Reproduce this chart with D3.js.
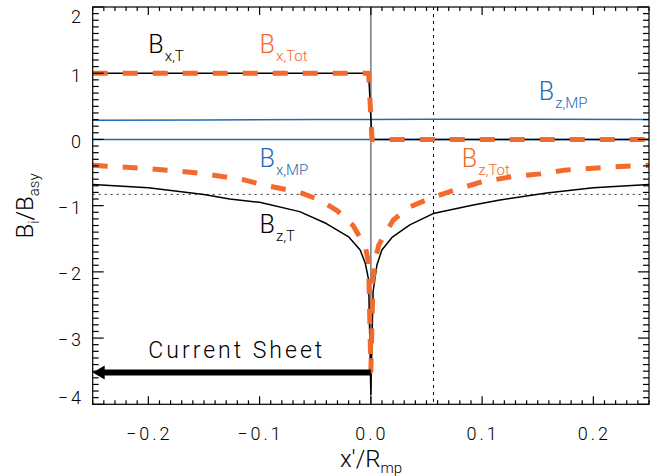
<!DOCTYPE html>
<html><head><meta charset="utf-8">
<script src="https://cdn.jsdelivr.net/npm/d3@7"></script>
<style>
body{margin:0;background:#fff;}
svg{display:block;font-family:Roboto,"Liberation Sans",sans-serif;font-weight:300;}
</style></head>
<body><svg id="c" width="655" height="476"></svg>
<script>
// ---- data ----
const xTickValues = [-0.2, -0.1, 0.0, 0.1, 0.2];
const xTickLabels = ["\u22120.2", "\u22120.1", "0.0", "0.1", "0.2"];
const yTickValues = [-4, -3, -2, -1, 0, 1, 2];
const yTickLabels = ["\u22124", "\u22123", "\u22122", "\u22121", "0", "1", "2"];

const bxT_x = [-0.25, -0.002, 0.001, 0.25];
const bxT_y = [1, 1, 0, 0];
const bxTot_x = [-0.25, -0.002, 0.001, 0.25];
const bxTot_y = [1, 1, 0, 0];
const bxMP_x = [-0.25, 0.25];
const bxMP_y = [0, 0];
const bzMP_x = [-0.25, -0.15, -0.05, 0.0, 0.05, 0.15, 0.25];
const bzMP_y = [0.29, 0.295, 0.30, 0.302, 0.305, 0.305, 0.302];
const bzT_x = [-0.25, -0.2, -0.15, -0.127, -0.1, -0.064, -0.04, -0.02, -0.0096, -0.005, -0.002, 0.0, 0.002, 0.0054, 0.0099, 0.019, 0.035, 0.056, 0.092, 0.116, 0.158, 0.2, 0.25];
const bzT_y = [-0.68, -0.73, -0.83, -0.90, -0.95, -1.09, -1.27, -1.47, -1.67, -1.87, -2.12, -3.85, -2.3, -1.9, -1.67, -1.48, -1.29, -1.12, -0.99, -0.915, -0.81, -0.73, -0.68];
const bzTot_x = [-0.25, -0.2, -0.153, -0.114, -0.096, -0.064, -0.045, -0.03, -0.016, -0.005, -0.002, 0.0, 0.002, 0.004, 0.007, 0.013, 0.02, 0.035, 0.056, 0.08, 0.1, 0.128, 0.152, 0.176, 0.212, 0.25];
const bzTot_y = [-0.39, -0.44, -0.51, -0.61, -0.69, -0.80, -0.92, -1.08, -1.30, -1.62, -1.87, -3.5, -2.1, -1.82, -1.6, -1.42, -1.22, -1.02, -0.87, -0.74, -0.64, -0.56, -0.52, -0.46, -0.42, -0.39];
const hRefY = -0.83;
const vRefX = 0.0563;
const arrowY = -3.52;

// ---- layout ----
const svg = d3.select("#c");
const L = 92.7, R = 649, T = 7, B = 404.3;
const x = d3.scaleLinear().domain([-0.25, 0.25]).range([L, R]);
const y = d3.scaleLinear().domain([-4, 2]).range([B, T]);
const black = "#000", orange = "#f26a2e", blue = "#1f6bb5", gray = "#808080";

const line = d3.line().x(d => x(d[0])).y(d => y(d[1]));
const zip = (a, b) => a.map((v, i) => [v, b[i]]);

const plot = svg.append("g");
// reference lines
plot.append("line").attr("x1", x(0)).attr("x2", x(0)).attr("y1", T).attr("y2", B)
  .attr("stroke", gray).attr("stroke-width", 1.6);
plot.append("line").attr("x1", L).attr("x2", R).attr("y1", y(hRefY)).attr("y2", y(hRefY))
  .attr("stroke", "#333").attr("stroke-width", 1).attr("stroke-dasharray", "2,4");
plot.append("line").attr("x1", x(vRefX)).attr("x2", x(vRefX)).attr("y1", T).attr("y2", B)
  .attr("stroke", "#000").attr("stroke-width", 1).attr("stroke-dasharray", "3,4");

// curves
function path(xs, ys, color, w, dash) {
  const p = plot.append("path").datum(zip(xs, ys)).attr("d", line)
    .attr("fill", "none").attr("stroke", color).attr("stroke-width", w)
    .attr("stroke-linejoin", "round");
  if (dash) p.attr("stroke-dasharray", dash);
  return p;
}
path(bxMP_x, bxMP_y, blue, 1.5);
path(bzMP_x, bzMP_y, blue, 1.5);
path(bxT_x, bxT_y, black, 1.5);
path(bzT_x, bzT_y, black, 1.5);
path(bxTot_x, bxTot_y, orange, 5, "15,15");
path(bzTot_x, bzTot_y, orange, 5, "15,15");

// current sheet arrow
const ay = y(arrowY);
plot.append("line").attr("x1", x(0)).attr("x2", x(-0.25) + 10).attr("y1", ay).attr("y2", ay)
  .attr("stroke", "#000").attr("stroke-width", 6);
plot.append("path")
  .attr("d", `M${x(-0.25)},${ay} L${x(-0.25) + 12},${ay - 7} L${x(-0.25) + 12},${ay + 7} Z`)
  .attr("fill", "#000");
svg.append("text").attr("x", x(-0.2)).attr("y", y(-3.30))
  .attr("font-size", 23).attr("letter-spacing", 3).attr("fill", "#000").text("Current Sheet");

// frame + ticks
const ax = svg.append("g").attr("stroke", "#000").attr("stroke-width", 1.2);
ax.append("rect").attr("x", L).attr("y", T).attr("width", R - L).attr("height", B - T).attr("fill", "none");
const xMinor = d3.range(-25, 26).map(v => v / 100);
xMinor.forEach(v => {
  const major = Math.abs(Math.round(v * 100) % 10) === 0;
  const len = major ? 8 : 4;
  ax.append("line").attr("x1", x(v)).attr("x2", x(v)).attr("y1", B).attr("y2", B - len);
  ax.append("line").attr("x1", x(v)).attr("x2", x(v)).attr("y1", T).attr("y2", T + len);
});
const yMinor = d3.range(-40, 21).map(v => v / 10);
yMinor.forEach(v => {
  const major = Math.round(v * 10) % 10 === 0;
  const len = major ? 11 : 6;
  ax.append("line").attr("y1", y(v)).attr("y2", y(v)).attr("x1", L).attr("x2", L + len);
  ax.append("line").attr("y1", y(v)).attr("y2", y(v)).attr("x1", R).attr("x2", R - len);
});

// tick labels
const tl = svg.append("g").attr("font-size", 18).attr("fill", "#000");
xTickValues.forEach((v, i) => {
  tl.append("text").attr("x", x(v) + 1).attr("y", 440).attr("text-anchor", "middle")
    .attr("letter-spacing", 3).text(xTickLabels[i]);
});
yTickValues.forEach((v, i) => {
  const yy = Math.max(17, Math.min(398, y(v) + 2));
  tl.append("text").attr("x", 84).attr("y", yy).attr("dy", "0.35em").attr("text-anchor", "end")
    .attr("letter-spacing", 3).text(yTickLabels[i]);
});

// axis titles
const xt = svg.append("text").attr("x", 371).attr("y", 467).attr("text-anchor", "middle")
  .attr("font-size", 24).attr("fill", "#000");
xt.append("tspan").text("x'/R");
xt.append("tspan").attr("font-size", 15).attr("dy", 6).text("mp");
const yt = svg.append("text").attr("transform", "translate(33,206) rotate(-90)")
  .attr("text-anchor", "middle").attr("font-size", 24).attr("fill", "#000");
yt.append("tspan").text("B");
yt.append("tspan").attr("font-size", 15).attr("dy", 6).text("i");
yt.append("tspan").attr("dy", -6).text("/B");
yt.append("tspan").attr("font-size", 15).attr("dy", 6).text("asy");

// curve labels
function label(xv, yv, sub, color) {
  const t = svg.append("text").attr("x", x(xv)).attr("y", y(yv)).attr("font-size", 25).attr("fill", color);
  t.append("tspan").text("B");
  t.append("tspan").attr("font-size", 15).attr("dy", 8).attr("dx", 1).text(sub);
}
label(-0.2, 1.30, "x,T", black);
label(-0.1, 1.30, "x,Tot", orange);
label(0.151, 0.595, "z,MP", blue);
label(-0.1, -0.41, "x,MP", blue);
label(0.0818, -0.41, "z,Tot", orange);
label(-0.1, -1.41, "z,T", black);
</script></body></html>
